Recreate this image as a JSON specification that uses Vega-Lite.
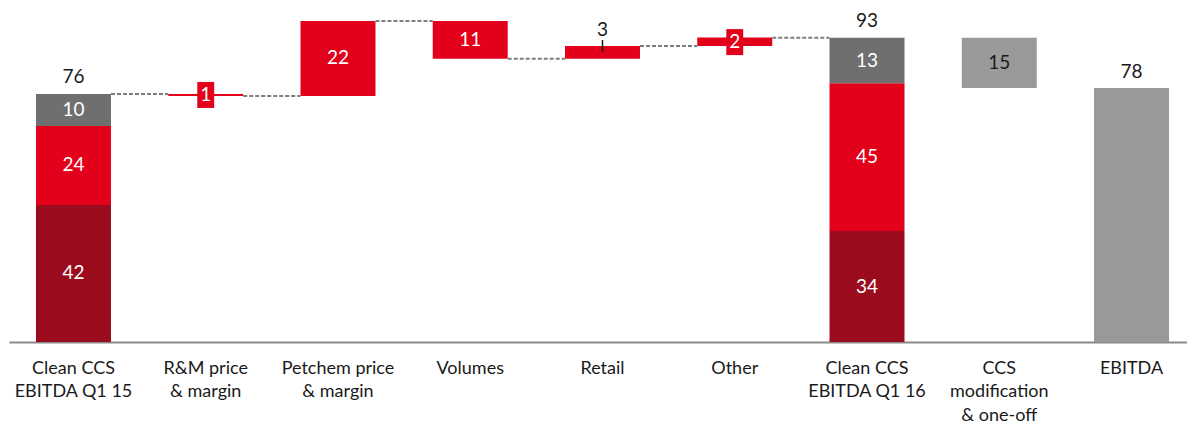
{
  "$schema": "https://vega.github.io/schema/vega-lite/v6.json",
  "width": 1187,
  "height": 342,
  "autosize": {"type": "none"},
  "padding": {"left": 9, "top": 0, "right": 0, "bottom": 85},
  "background": "white",
  "config": {"view": {"stroke": null}, "font": "Lato"},
  "datasets": {
    "bars": [
      {"cat": "Clean CCS|EBITDA Q1 15", "seg": "dark", "lo": 0, "hi": 42, "lbl": "42"},
      {"cat": "Clean CCS|EBITDA Q1 15", "seg": "red", "lo": 42, "hi": 66.2, "lbl": "24"},
      {"cat": "Clean CCS|EBITDA Q1 15", "seg": "grey", "lo": 66.2, "hi": 76.0, "lbl": "10"},
      {"cat": "R&M price|& margin", "seg": "red", "lo": 75.4, "hi": 76.0, "lbl": null},
      {"cat": "Petchem price|& margin", "seg": "red", "lo": 75.4, "hi": 98.4, "lbl": "22"},
      {"cat": "Volumes", "seg": "red", "lo": 86.8, "hi": 98.4, "lbl": "11"},
      {"cat": "Retail", "seg": "red", "lo": 86.8, "hi": 90.7, "lbl": null},
      {"cat": "Other", "seg": "red", "lo": 90.7, "hi": 93.3, "lbl": null},
      {"cat": "Clean CCS|EBITDA Q1 16", "seg": "dark", "lo": 0, "hi": 34.0, "lbl": "34"},
      {"cat": "Clean CCS|EBITDA Q1 16", "seg": "red", "lo": 34.0, "hi": 79.3, "lbl": "45"},
      {"cat": "Clean CCS|EBITDA Q1 16", "seg": "grey", "lo": 79.3, "hi": 93.2, "lbl": "13"},
      {"cat": "CCS|modification|& one-off", "seg": "light", "lo": 77.8, "hi": 93.2, "lbl": "15"},
      {"cat": "EBITDA", "seg": "light", "lo": 0, "hi": 77.8, "lbl": null}
    ],
    "connectors": [
      {"from": "Clean CCS|EBITDA Q1 15", "to": "R&M price|& margin", "level": 76.0},
      {"from": "R&M price|& margin", "to": "Petchem price|& margin", "level": 75.4},
      {"from": "Petchem price|& margin", "to": "Volumes", "level": 98.4},
      {"from": "Volumes", "to": "Retail", "level": 86.8},
      {"from": "Retail", "to": "Other", "level": 90.7},
      {"from": "Other", "to": "Clean CCS|EBITDA Q1 16", "level": 93.2}
    ],
    "boxes": [
      {"cat": "R&M price|& margin", "level": 75.7, "lbl": "1"},
      {"cat": "Other", "level": 91.9, "lbl": "2"}
    ],
    "totals": [
      {"cat": "Clean CCS|EBITDA Q1 15", "level": 76.0, "lbl": "76"},
      {"cat": "Retail", "level": 90.7, "lbl": "3"},
      {"cat": "Clean CCS|EBITDA Q1 16", "level": 93.2, "lbl": "93"},
      {"cat": "EBITDA", "level": 77.8, "lbl": "78"}
    ],
    "ticks": [
      {"cat": "Retail", "lo": 88.9, "hi": 92.55}
    ]
  },
  "encoding": {
    "x": {
      "field": "cat",
      "type": "nominal",
      "scale": {
        "domain": ["Clean CCS|EBITDA Q1 15", "R&M price|& margin", "Petchem price|& margin", "Volumes", "Retail", "Other", "Clean CCS|EBITDA Q1 16", "CCS|modification|& one-off", "EBITDA"],
        "paddingInner": 0.433,
        "paddingOuter": 0.204
      },
      "axis": {
        "title": null,
        "ticks": false,
        "domain": true,
        "domainColor": "#8a8a8a",
        "domainWidth": 2,
        "labelAngle": 0,
        "labelFont": "Lato",
        "labelFontSize": 18,
        "labelColor": "#1a1a1a",
        "labelLineHeight": 23.5,
        "labelBaseline": "top",
        "labelPadding": 17,
        "labelLimit": 0,
        "labelOverlap": false,
        "labelBound": false,
        "labelExpr": "split(datum.value, '|')"
      }
    }
  },
  "layer": [
    {
      "data": {"name": "bars"},
      "mark": {"type": "bar"},
      "encoding": {
        "y": {"field": "lo", "type": "quantitative", "scale": {"domain": [0, 104.8], "nice": false, "zero": true}, "axis": null},
        "y2": {"field": "hi"},
        "color": {
          "field": "seg",
          "type": "nominal",
          "scale": {"domain": ["dark", "red", "grey", "light"], "range": ["#9B0B1E", "#E2001A", "#6F6F6F", "#999999"]},
          "legend": null
        }
      }
    },
    {
      "data": {"name": "connectors"},
      "mark": {"type": "rule", "stroke": "#7f7f7f", "strokeWidth": 2, "strokeDash": [4, 2]},
      "encoding": {
        "x": {"field": "from", "type": "nominal", "bandPosition": 1},
        "x2": {"field": "to", "bandPosition": 0},
        "y": {"field": "level", "type": "quantitative"}
      }
    },
    {
      "data": {"name": "ticks"},
      "mark": {"type": "rule", "stroke": "#1a1a1a", "strokeWidth": 1.5},
      "encoding": {
        "y": {"field": "lo", "type": "quantitative"},
        "y2": {"field": "hi"}
      }
    },
    {
      "data": {"name": "boxes"},
      "mark": {"type": "point", "filled": true, "opacity": 1, "color": "#E2001A", "shape": "M-0.65,-1H0.65V1H-0.65Z", "size": 676},
      "encoding": {
        "y": {"field": "level", "type": "quantitative"}
      }
    },
    {
      "data": {"name": "boxes"},
      "mark": {"type": "text", "color": "white", "fontSize": 19, "font": "Lato", "baseline": "middle"},
      "encoding": {
        "y": {"field": "level", "type": "quantitative"},
        "text": {"field": "lbl"}
      }
    },
    {
      "data": {"name": "bars"},
      "transform": [
        {"filter": "datum.lbl != null"},
        {"fold": ["lo", "hi"], "as": ["k", "v"]},
        {"aggregate": [{"op": "mean", "field": "v", "as": "mid"}], "groupby": ["cat", "seg", "lbl"]}
      ],
      "mark": {"type": "text", "fontSize": 19, "font": "Lato", "baseline": "middle"},
      "encoding": {
        "y": {"field": "mid", "type": "quantitative"},
        "text": {"field": "lbl"},
        "color": {
          "condition": {"test": "datum.seg == 'light'", "value": "#1a1a1a"},
          "value": "#ffffff"
        }
      }
    },
    {
      "data": {"name": "totals"},
      "mark": {"type": "text", "fontSize": 19, "font": "Lato", "baseline": "alphabetic", "dy": -10.5, "color": "#1a1a1a"},
      "encoding": {
        "y": {"field": "level", "type": "quantitative"},
        "text": {"field": "lbl"}
      }
    }
  ]
}
